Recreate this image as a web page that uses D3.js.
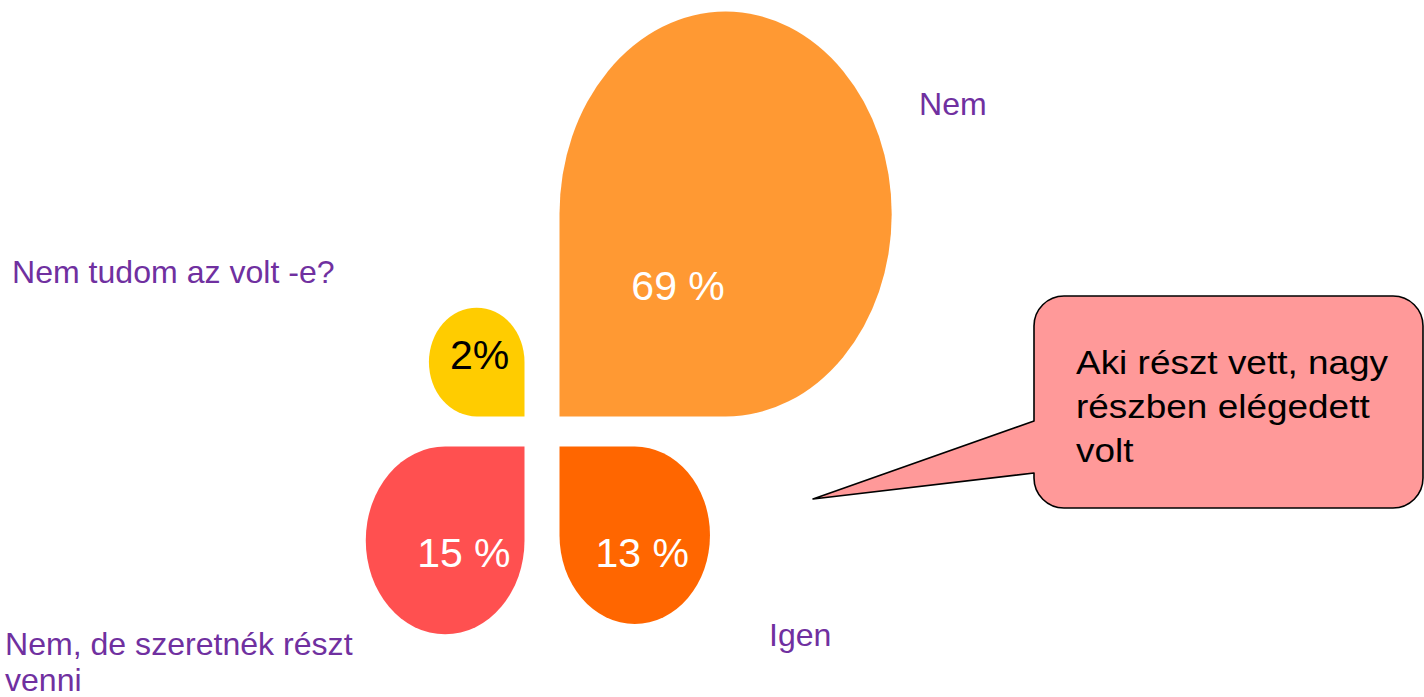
<!DOCTYPE html>
<html lang="hu">

<head>
	<meta charset="UTF-8">
	<title>Petal chart</title>
	<script src="https://d3js.org/d3.v7.min.js"></script>
	<style>
		body {
			margin: 0;
			padding: 0;
			background: #ffffff;
		}

		svg text {
			font-family: "Liberation Sans", Arial, sans-serif;
		}
	</style>
</head>

<body>
	<div id="chart"></div>
	<script>
		// chart data
		const categories = ["Nem", "Nem tudom az volt -e?", "Nem, de szeretnék részt venni", "Igen"];
		const categoryLines = [["Nem"], ["Nem tudom az volt -e?"], ["Nem, de szeretnék részt", "venni"], ["Igen"]];
		const values = [69, 2, 15, 13];
		const valueLabels = ["69 %", "2%", "15 %", "13 %"];
		const colors = ["#FF9933", "#FFCC00", "#FF5050", "#FF6600"];
		const valueColors = ["#ffffff", "#000000", "#ffffff", "#ffffff"];
		const calloutLines = ["Aki részt vett, nagy", "részben elégedett", "volt"];

		const width = 1424;
		const height = 697;

		// centre of the flower and the gap between petals
		const cx = 542, cy = 431.5;
		const gapX = 17.5, gapY = 15;

		// petal direction (x, y), value label position as fraction of petal size, category label position
		const layout = [
			{ sx: 1, sy: -1, fx: 0.357, fy: 0.288, lx: 919, ly: 115 },
			{ sx: -1, sy: -1, fx: 0.469, fy: 0.436, lx: 12, ly: 283 },
			{ sx: -1, sy: 1, fx: 0.382, fy: 0.64, lx: 5, ly: 655 },
			{ sx: 1, sy: 1, fx: 0.55, fy: 0.677, lx: 769, ly: 646 }
		];

		const data = categories.map((c, i) => ({
			category: c,
			lines: categoryLines[i],
			value: values[i],
			label: valueLabels[i],
			color: colors[i],
			textColor: valueColors[i],
			...layout[i]
		}));

		// petal size scales (width and height of the ellipse)
		const wScale = d3.scalePow().exponent(0.75).domain([0, 69]).range([77.7, 332.2]);
		const hScale = d3.scalePow().exponent(0.75).domain([0, 69]).range([86.5, 404.9]);

		function petalPath(d) {
			const w = wScale(d.value), h = hScale(d.value);
			const ox = cx + d.sx * gapX, oy = cy + d.sy * gapY;
			const rx = w / 2, ry = h / 2;
			const ex = ox + d.sx * rx, ey = oy + d.sy * ry;
			const sweep = d.sx * d.sy > 0 ? 1 : 0;
			return `M${ox},${oy}L${ex},${oy}A${rx},${ry} 0 1 ${sweep} ${ox},${ey}Z`;
		}

		const svg = d3.select("#chart")
			.append("svg")
			.attr("width", width)
			.attr("height", height);

		// petals
		svg.selectAll("path.petal")
			.data(data)
			.enter().append("path")
			.attr("class", "petal")
			.attr("d", petalPath)
			.attr("fill", d => d.color);

		// value labels inside petals
		svg.selectAll("text.value")
			.data(data)
			.enter().append("text")
			.attr("class", "value")
			.attr("x", d => cx + d.sx * gapX + d.sx * d.fx * wScale(d.value))
			.attr("y", d => cy + d.sy * gapY + d.sy * d.fy * hScale(d.value))
			.attr("text-anchor", "middle")
			.attr("font-size", 41)
			.attr("fill", d => d.textColor)
			.text(d => d.label);

		// category labels
		const cat = svg.selectAll("text.category")
			.data(data)
			.enter().append("text")
			.attr("class", "category")
			.attr("transform", d => `translate(${d.lx},${d.ly}) scale(1.035,1)`)
			.attr("font-size", 31)
			.attr("fill", "#7030A0");

		cat.selectAll("tspan")
			.data(d => d.lines)
			.enter().append("tspan")
			.attr("x", 0)
			.attr("dy", (t, i) => i === 0 ? 0 : 36)
			.text(t => t);

		// callout box with pointer
		const box = { x0: 1034, y0: 296, x1: 1423, y1: 508, r: 30 };
		const tip = { x: 813, y: 499, top: 421, bottom: 473 };

		const p = d3.path();
		p.moveTo(box.x0 + box.r, box.y0);
		p.lineTo(box.x1 - box.r, box.y0);
		p.arcTo(box.x1, box.y0, box.x1, box.y0 + box.r, box.r);
		p.lineTo(box.x1, box.y1 - box.r);
		p.arcTo(box.x1, box.y1, box.x1 - box.r, box.y1, box.r);
		p.lineTo(box.x0 + box.r, box.y1);
		p.arcTo(box.x0, box.y1, box.x0, box.y1 - box.r, box.r);
		p.lineTo(box.x0, tip.bottom);
		p.lineTo(tip.x, tip.y);
		p.lineTo(box.x0, tip.top);
		p.lineTo(box.x0, box.y0 + box.r);
		p.arcTo(box.x0, box.y0, box.x0 + box.r, box.y0, box.r);
		p.closePath();

		svg.append("path")
			.attr("d", p.toString())
			.attr("fill", "#FF9999")
			.attr("stroke", "#000000")
			.attr("stroke-width", 1.6)
			.attr("stroke-linejoin", "round");

		svg.selectAll("text.callout")
			.data(calloutLines)
			.enter().append("text")
			.attr("class", "callout")
			.attr("transform", (d, i) => `translate(1076,${373.5 + i * 44}) scale(1.12,1)`)
			.attr("font-size", 33)
			.attr("fill", "#000000")
			.text(d => d);
	</script>

</body>

</html>
